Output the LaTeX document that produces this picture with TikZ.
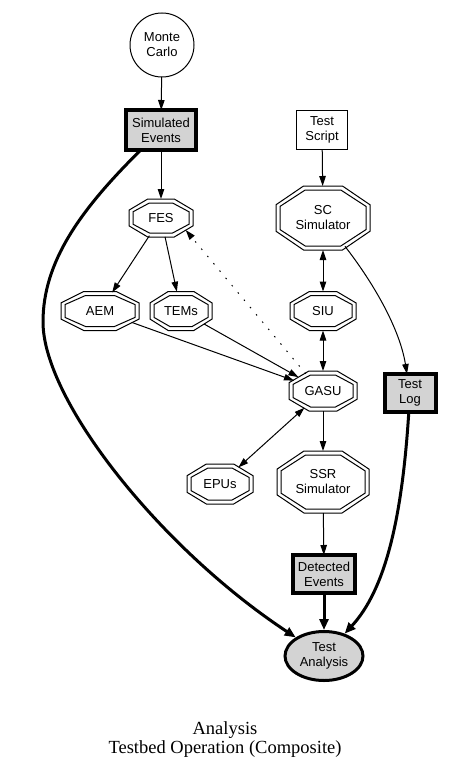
\documentclass[tikz,border=0pt]{standalone}
\usepackage{fontspec}
\setmainfont{Liberation Sans}
\newfontfamily\capfont{Liberation Serif}
\usetikzlibrary{arrows.meta,shapes.geometric}
\definecolor{boxgray}{RGB}{211,211,211}
\tikzset{
 lbl/.style={font=\fontsize{13}{15}\selectfont, align=center, inner sep=0pt},
 octnode/.style={lbl, ellipse, outer sep=0pt},
 octline/.style={line width=1pt, line join=miter},
 thinbox/.style={lbl, rectangle, draw, line width=1pt, outer sep=0pt},
 thickbox/.style={lbl, rectangle, draw, line width=4pt, fill=boxgray, outer sep=0pt},
 thinell/.style={lbl, ellipse, draw, line width=1pt, outer sep=0pt},
 thickell/.style={lbl, ellipse, draw, line width=3pt, fill=boxgray, outer sep=1.5pt},
 tip/.style={-{Triangle[length=10pt,width=6.5pt]}},
 edge/.style={line width=1pt, tip},
 bothedge/.style={line width=1pt, {Triangle[length=10pt,width=6.5pt]}-{Triangle[length=10pt,width=6.5pt]}},
 thickedge/.style={line width=3pt, -{Triangle[length=11pt,width=9pt]}},
 dottededge/.style={edge, dash pattern=on 1.5pt off 8pt},
}
\newcommand\octpath[3]{%
  \draw[octline, shift={(#1.center)}]
    ({(#2)/2},{0.207*(#3)}) -- ({0.207*(#2)},{(#3)/2}) -- ({-0.207*(#2)},{(#3)/2}) --
    ({-(#2)/2},{0.207*(#3)}) -- ({-(#2)/2},{-0.207*(#3)}) -- ({-0.207*(#2)},{-(#3)/2}) --
    ({0.207*(#2)},{-(#3)/2}) -- ({(#2)/2},{-0.207*(#3)}) -- cycle;}
\newcommand\octo[6]{%
  \node[octnode, minimum width=#4pt, minimum height=#5pt] (#1) at (#2,#3) {#6};
  \octpath{#1}{#4}{#5}
  \octpath{#1}{#4-8}{#5-8}}
\begin{document}
\begin{tikzpicture}[x=1pt,y=-1pt]
\useasboundingbox (0,0) rectangle (448,773);
% nodes
\node[thinell, minimum width=64pt, minimum height=64pt] (mc) at (162,45) {Monte\\Carlo};
\node[thickbox, minimum width=70pt, minimum height=40pt] (sim) at (161,130) {Simulated\\Events};
\node[thinbox, minimum width=51pt, minimum height=39pt] (ts) at (322,130) {Test\\Script};
\octo{fes}{161}{218}{64}{38}{FES}
\octo{sc}{323}{218}{94}{64}{SC\\Simulator}
\octo{aem}{100}{311}{78}{39}{AEM}
\octo{tems}{181}{311}{62}{39}{TEMs}
\octo{siu}{323}{311}{66}{39}{SIU}
\octo{gasu}{323}{391}{68}{40}{GASU}
\node[thickbox, minimum width=51pt, minimum height=38pt] (tlog) at (410,393) {Test\\Log};
\octo{epus}{220}{484}{66}{40}{EPUs}
\octo{ssr}{323}{482}{92}{62}{SSR\\Simulator}
\node[thickbox, minimum width=62pt, minimum height=38pt] (det) at (324,574) {Detected\\Events};
\node[thickell, minimum width=78pt, minimum height=49pt] (ta) at (324,656) {Test\\Analysis};
\node[font=\capfont\fontsize{18.5}{19}\selectfont, align=center, inner sep=0pt] (cap) at (225,740) {Analysis\\Testbed Operation (Composite)};
% edges
\draw[edge] (mc) -- (sim);
\draw[edge] (sim) -- (fes);
\coordinate (c1) at (43,322);
\draw[thickedge] (sim) .. controls (80,210) and (43,262) .. (c1) .. controls (43,400) and (160,548) .. (ta);
\draw[edge] (ts) -- (sc);
\draw[edge] (fes) -- (aem);
\draw[edge] (fes) -- (tems);
\draw[dottededge] (gasu.135) -- (fes.-26);
\draw[bothedge] (sc) -- (siu);
\draw[bothedge] (siu) -- (gasu);
\draw[edge] (aem) -- (gasu);
\draw[edge] (tems) -- (gasu);
\draw[bothedge] (gasu) -- (epus);
\draw[edge] (gasu) -- (ssr);
\draw[edge] (sc) .. controls (375,285) and (400,330) .. (tlog);
\draw[edge] (ssr) -- (det);
\draw[thickedge] (det) -- (ta);
\draw[thickedge] (tlog) .. controls (402,520) and (385,590) .. (ta);
\end{tikzpicture}
\end{document}
